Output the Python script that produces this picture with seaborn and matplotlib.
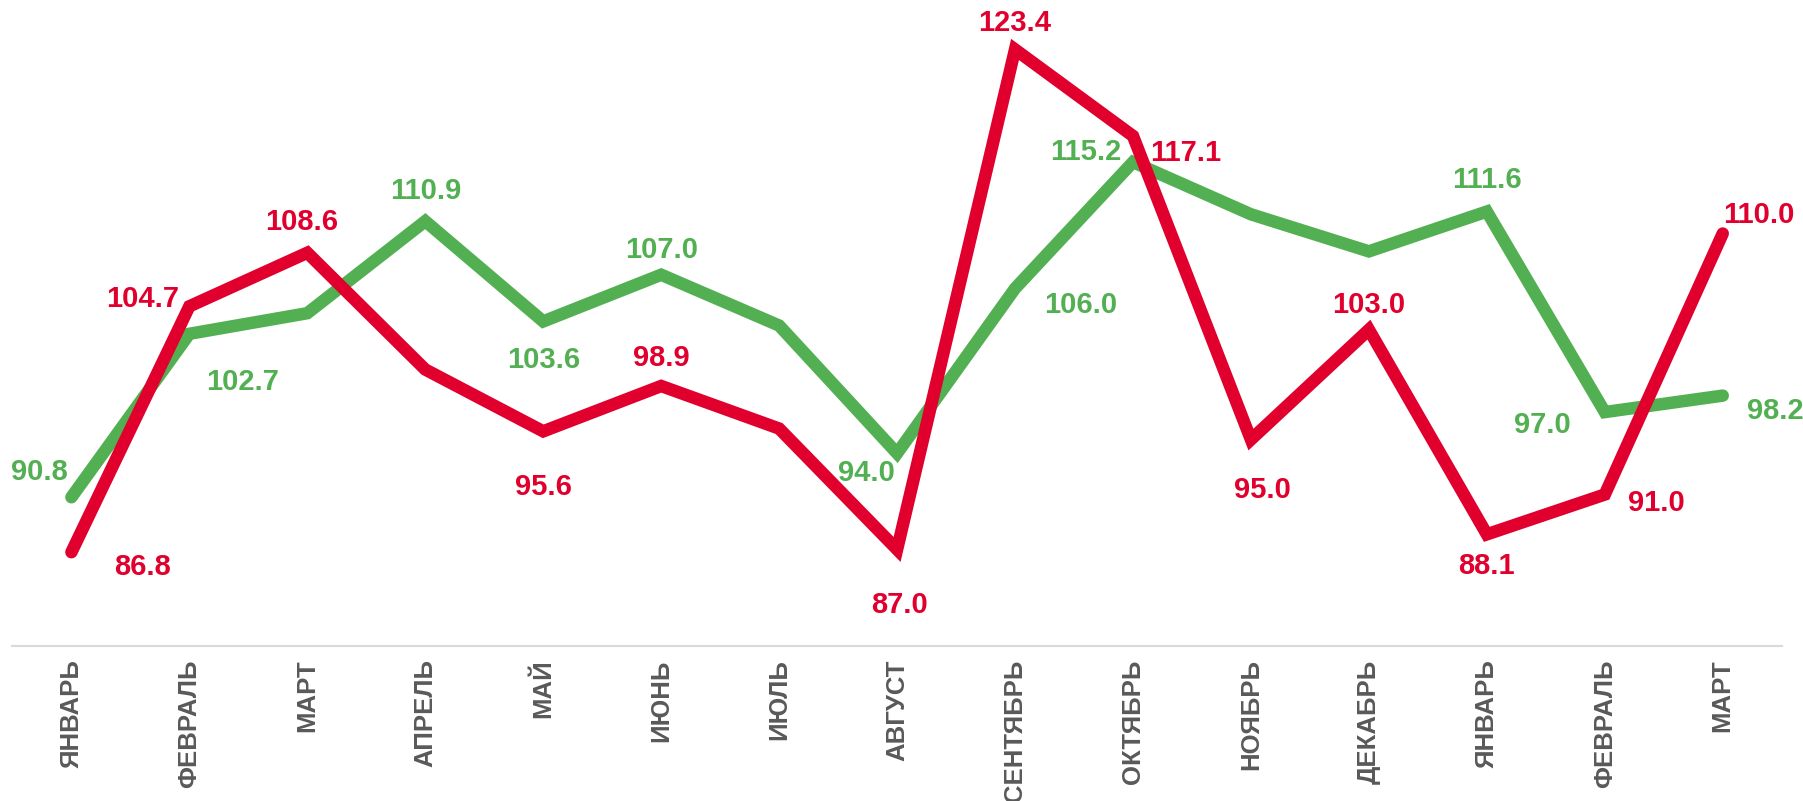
import pandas as pd
import seaborn as sns
import matplotlib.pyplot as plt

# months on the x axis (two years: Jan..Dec, Jan..Mar)
months = ["ЯНВАРЬ", "ФЕВРАЛЬ", "МАРТ", "АПРЕЛЬ", "МАЙ", "ИЮНЬ", "ИЮЛЬ", "АВГУСТ",
          "СЕНТЯБРЬ", "ОКТЯБРЬ", "НОЯБРЬ", "ДЕКАБРЬ", "ЯНВАРЬ", "ФЕВРАЛЬ", "МАРТ"]
green_vals = [90.8, 102.7, 104.2, 110.9, 103.6, 107.0, 103.3, 94.0,
              106.0, 115.2, 111.4, 108.7, 111.6, 97.0, 98.2]
red_vals = [86.8, 104.7, 108.6, 100.1, 95.6, 98.9, 95.8, 87.0,
            123.4, 117.1, 95.0, 103.0, 88.1, 91.0, 110.0]
# which points carry a data label
green_labeled = [1, 1, 0, 1, 1, 1, 0, 1, 1, 1, 0, 0, 1, 1, 1]
red_labeled = [1, 1, 1, 0, 1, 1, 0, 1, 1, 1, 1, 1, 1, 1, 1]

# label offsets in points (dx, dy)
green_off = [(-23, 18), (38, -35), None, (0, 22), (0, -28), (0, 18), None, (-22, -14),
             (47, -12), (-34, 7), None, None, (0, 23), (-45, -9), (38, -11)]
red_off = [(51, -11), (-34, 5), (-4, 22), None, (0, -40), (0, 20), None, (2, -40),
           (0, 19), (38, -12), (8, -36), (0, 18), (0, -23), (37, -6), (26, 13)]

GREEN = "#52B052"
RED = "#E1002D"

df = pd.DataFrame({"pos": list(range(len(months))) * 2,
                   "value": green_vals + red_vals,
                   "series": ["green"] * len(months) + ["red"] * len(months)})

sns.set_style("white")
plt.rcParams["font.family"] = ["Liberation Sans", "DejaVu Sans"]

fig = plt.figure(figsize=(18.03, 8.01), dpi=100)
ax = fig.add_axes([0.0069, 0.194, 0.9813, 0.806])

sns.lineplot(data=df, x="pos", y="value", hue="series",
             palette={"green": GREEN, "red": RED}, linewidth=9,
             solid_capstyle="round", solid_joinstyle="miter", legend=False, ax=ax)

for vals, flags, offs, col in [(green_vals, green_labeled, green_off, GREEN),
                               (red_vals, red_labeled, red_off, RED)]:
    for i, v in enumerate(vals):
        if flags[i]:
            ax.annotate(f"{v:.1f}", (i, v), xytext=offs[i], textcoords="offset points",
                        ha="center", va="center", color=col, fontsize=21,
                        fontweight="bold")

ax.set_xlim(-0.5, len(months) - 0.5)
ax.set_ylim(80, 127)
ax.set_xticks(range(len(months)))
ax.set_xticklabels(months, rotation=90, fontsize=18.5, fontweight="bold", color="#595959")
ax.tick_params(axis="x", length=0, pad=10)
ax.set_yticks([])
ax.set_xlabel("")
ax.set_ylabel("")
for s in ["top", "left", "right"]:
    ax.spines[s].set_visible(False)
ax.spines["bottom"].set_color("#D9D9D9")
ax.spines["bottom"].set_linewidth(1.5)

fig.savefig("out.png", dpi=100)
